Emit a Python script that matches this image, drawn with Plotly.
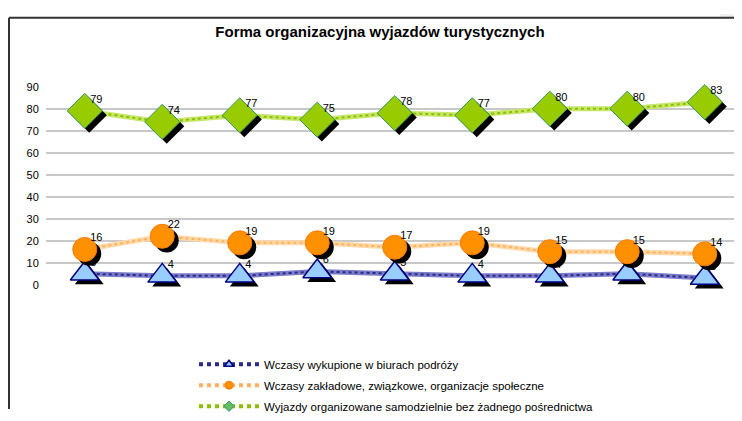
import plotly.graph_objects as go

title = "Forma organizacyjna wyjazdów turystycznych"
categories = ["1", "2", "3", "4", "5", "6", "7", "8", "9"]
series_names = [
    "Wczasy wykupione w biurach podróży",
    "Wczasy zakładowe, związkowe, organizacje społeczne",
    "Wyjazdy organizowane samodzielnie bez żadnego pośrednictwa",
]
biura = [5, 4, 4, 6, 5, 4, 4, 5, 3]
zakladowe = [16, 22, 19, 19, 17, 19, 15, 15, 14]
samodzielnie = [79, 74, 77, 75, 78, 77, 80, 80, 83]
y_ticks = [0, 10, 20, 30, 40, 50, 60, 70, 80, 90]

# page body has an 8px margin: figure is placed at (8, 8)
OFF = 8
W, H = 742 - OFF, 421 - OFF
plot_left, plot_top, plot_bottom = 46 - OFF, 84 - OFF, 291 - OFF
cat_px = 77.5
y_max = 90
px_per_unit = (plot_bottom - plot_top) / y_max
shadow_px = 4.5

xs = list(range(len(categories)))
x_range = [-0.5, -0.5 + (W - plot_left) / cat_px]
shadow_dx = shadow_px / cat_px
shadow_dy = shadow_px / px_per_unit

styles = [
    dict(name=series_names[0], y=biura, base="#7c7cc8", dot="#2a2a8a",
         marker=dict(symbol="triangle-up", size=25, color="#99ccff",
                     line=dict(color="#000080", width=1.5)),
         leg=dict(symbol="triangle-up", size=8, color="#99ccff",
                  line=dict(color="#000080", width=1.5))),
    dict(name=series_names[1], y=zakladowe, base="#ffd9a8", dot="#ffb060",
         marker=dict(symbol="circle", size=24, color="#ff9000",
                     line=dict(color="#ff7a00", width=1)),
         leg=dict(symbol="circle", size=8, color="#ff9000",
                  line=dict(color="#ff7a00", width=1))),
    dict(name=series_names[2], y=samodzielnie, base="#c8e66a", dot="#8cc000",
         marker=dict(symbol="diamond", size=27, color="#99cc00",
                     line=dict(color="#339966", width=1)),
         leg=dict(symbol="diamond", size=8, color="#66bb66",
                  line=dict(color="#339966", width=1))),
]

font = "Liberation Sans, Arial, sans-serif"
fig = go.Figure()

for s in styles:
    # base (wide, light) line
    fig.add_trace(go.Scatter(
        x=xs, y=s["y"], mode="lines", line=dict(color=s["base"], width=5),
        showlegend=False, hoverinfo="skip", cliponaxis=False))
    # dotted texture on top of the line
    fig.add_trace(go.Scatter(
        x=xs, y=s["y"], mode="lines", line=dict(color=s["dot"], width=2, dash="dot"),
        showlegend=False, hoverinfo="skip", cliponaxis=False))
    # marker shadow
    fig.add_trace(go.Scatter(
        x=[v + shadow_dx for v in xs], y=[v - shadow_dy for v in s["y"]], mode="markers",
        marker=dict(symbol=s["marker"]["symbol"], size=s["marker"]["size"], color="black"),
        showlegend=False, hoverinfo="skip", cliponaxis=False))
    # markers
    fig.add_trace(go.Scatter(
        x=xs, y=s["y"], mode="markers", marker=s["marker"],
        showlegend=False, cliponaxis=False, name=s["name"]))
    # value labels (invisible small marker sets the label offset)
    fig.add_trace(go.Scatter(
        x=xs, y=s["y"], mode="markers+text", text=[str(v) for v in s["y"]],
        textposition="top right",
        marker=dict(size=7, opacity=0),
        textfont=dict(family=font, size=11, color="black"),
        showlegend=False, hoverinfo="skip", cliponaxis=False))

# legend entries
for i, s in enumerate(styles):
    fig.add_trace(go.Scatter(
        x=[None], y=[None], mode="lines+markers", name=s["name"], legendgroup=f"g{i}",
        line=dict(color=s["dot"], width=4, dash="dot"), marker=s["leg"]))

fig.update_layout(
    width=W, height=H,
    margin=dict(l=0, r=0, t=0, b=0),
    paper_bgcolor="white", plot_bgcolor="rgba(0,0,0,0)",
    title=dict(text="<b>" + title + "</b>", x=(380 - OFF) / W, xanchor="center",
               y=1 - (32 - OFF) / H, yanchor="middle",
               font=dict(family=font, size=15, color="black")),
    xaxis=dict(domain=[plot_left / W, 1.0], range=x_range, showticklabels=False,
               showgrid=False, zeroline=False, showline=False),
    yaxis=dict(domain=[1 - plot_bottom / H, 1 - plot_top / H], range=[0, y_max],
               tickvals=y_ticks, showgrid=True, gridcolor="#c8c8c8", gridwidth=2,
               zeroline=False, showline=False,
               ticks="outside", ticklen=4, tickcolor="rgba(0,0,0,0)",
               tickfont=dict(family=font, size=11, color="black")),
    showlegend=True,
    legend=dict(x=(194 - OFF) / W, y=1 - (359 - OFF) / H, xanchor="left", yanchor="top",
                bgcolor="rgba(0,0,0,0)", itemwidth=60, tracegroupgap=2,
                font=dict(family=font, size=11.5, color="black")),
    shapes=[
        dict(type="rect", xref="paper", yref="paper", x0=(720 - OFF) / W, x1=1,
             y0=1 - (12 - OFF) / H, y1=1,
             fillcolor="#f0f0f0", line=dict(width=0), layer="below"),
        dict(type="line", xref="paper", yref="paper", x0=(9 - OFF) / W, x1=1,
             y0=1 - (12 - OFF) / H, y1=1 - (12 - OFF) / H,
             line=dict(color="#333333", width=2)),
        dict(type="line", xref="paper", yref="paper", x0=(9 - OFF) / W, x1=(9 - OFF) / W,
             y0=0, y1=1 - (12 - OFF) / H,
             line=dict(color="#333333", width=2)),
    ],
)

fig.write_html("out.html")
